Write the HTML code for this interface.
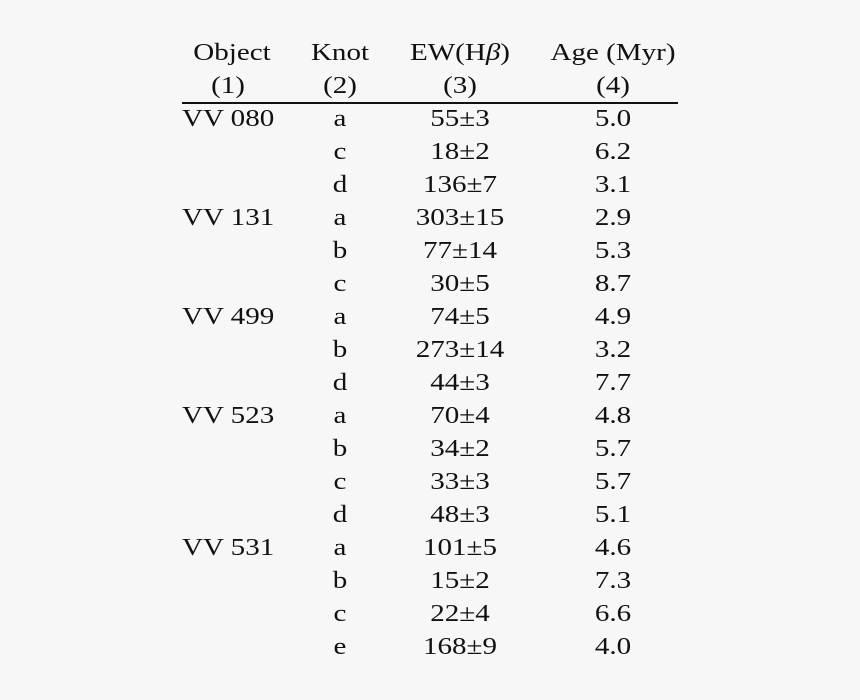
<!DOCTYPE html>
<html><head><meta charset="utf-8"><style>
html,body{margin:0;padding:0;background:#f7f7f7;}
#c{position:relative;width:860px;height:700px;background:#f7f7f7;font-family:"Liberation Serif",serif;font-size:24px;color:#111;}
.t{position:absolute;white-space:nowrap;line-height:1;transform:translate(-50%,-50%) scaleX(1.21);margin-top:1px;}
.l{position:absolute;white-space:nowrap;line-height:1;transform-origin:0 50%;transform:translateY(-50%) scaleX(1.21);margin-top:1px;}
#rule{position:absolute;left:182px;top:102px;width:496px;height:2px;background:#111;}
</style></head><body><div id="c">
<div class="t" style="left:232px;top:52px">Object</div>
<div class="t" style="left:340px;top:52px">Knot</div>
<div class="t" style="left:460px;top:52px">EW(H<i>β</i>)</div>
<div class="t" style="left:613px;top:52px">Age (Myr)</div>
<div class="t" style="left:228px;top:85px">(1)</div>
<div class="t" style="left:340px;top:85px">(2)</div>
<div class="t" style="left:460px;top:85px">(3)</div>
<div class="t" style="left:613px;top:85px">(4)</div>
<div id="rule"></div>
<div class="l" style="left:182px;top:118px">VV 080</div>
<div class="l" style="left:182px;top:217px">VV 131</div>
<div class="l" style="left:182px;top:316px">VV 499</div>
<div class="l" style="left:182px;top:415px">VV 523</div>
<div class="l" style="left:182px;top:547px">VV 531</div>
<div class="t" style="left:340px;top:118px">a</div><div class="t" style="left:460px;top:118px">55±3</div><div class="t" style="left:613px;top:118px">5.0</div>
<div class="t" style="left:340px;top:151px">c</div><div class="t" style="left:460px;top:151px">18±2</div><div class="t" style="left:613px;top:151px">6.2</div>
<div class="t" style="left:340px;top:184px">d</div><div class="t" style="left:460px;top:184px">136±7</div><div class="t" style="left:613px;top:184px">3.1</div>
<div class="t" style="left:340px;top:217px">a</div><div class="t" style="left:460px;top:217px">303±15</div><div class="t" style="left:613px;top:217px">2.9</div>
<div class="t" style="left:340px;top:250px">b</div><div class="t" style="left:460px;top:250px">77±14</div><div class="t" style="left:613px;top:250px">5.3</div>
<div class="t" style="left:340px;top:283px">c</div><div class="t" style="left:460px;top:283px">30±5</div><div class="t" style="left:613px;top:283px">8.7</div>
<div class="t" style="left:340px;top:316px">a</div><div class="t" style="left:460px;top:316px">74±5</div><div class="t" style="left:613px;top:316px">4.9</div>
<div class="t" style="left:340px;top:349px">b</div><div class="t" style="left:460px;top:349px">273±14</div><div class="t" style="left:613px;top:349px">3.2</div>
<div class="t" style="left:340px;top:382px">d</div><div class="t" style="left:460px;top:382px">44±3</div><div class="t" style="left:613px;top:382px">7.7</div>
<div class="t" style="left:340px;top:415px">a</div><div class="t" style="left:460px;top:415px">70±4</div><div class="t" style="left:613px;top:415px">4.8</div>
<div class="t" style="left:340px;top:448px">b</div><div class="t" style="left:460px;top:448px">34±2</div><div class="t" style="left:613px;top:448px">5.7</div>
<div class="t" style="left:340px;top:481px">c</div><div class="t" style="left:460px;top:481px">33±3</div><div class="t" style="left:613px;top:481px">5.7</div>
<div class="t" style="left:340px;top:514px">d</div><div class="t" style="left:460px;top:514px">48±3</div><div class="t" style="left:613px;top:514px">5.1</div>
<div class="t" style="left:340px;top:547px">a</div><div class="t" style="left:460px;top:547px">101±5</div><div class="t" style="left:613px;top:547px">4.6</div>
<div class="t" style="left:340px;top:580px">b</div><div class="t" style="left:460px;top:580px">15±2</div><div class="t" style="left:613px;top:580px">7.3</div>
<div class="t" style="left:340px;top:613px">c</div><div class="t" style="left:460px;top:613px">22±4</div><div class="t" style="left:613px;top:613px">6.6</div>
<div class="t" style="left:340px;top:646px">e</div><div class="t" style="left:460px;top:646px">168±9</div><div class="t" style="left:613px;top:646px">4.0</div>
</div></body></html>
